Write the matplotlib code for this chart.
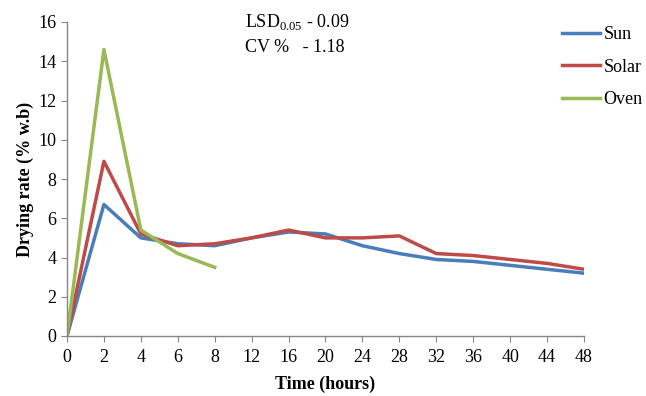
import matplotlib
matplotlib.use("Agg")
import matplotlib.pyplot as plt
import numpy as np

hours = ["0", "2", "4", "6", "8", "12", "16", "20", "24", "28", "32", "36", "40", "44", "48"]
sun = [0, 6.7, 5.0, 4.7, 4.6, 5.0, 5.3, 5.2, 4.6, 4.2, 3.9, 3.8, 3.6, 3.4, 3.2]
solar = [0, 8.9, 5.2, 4.6, 4.7, 5.0, 5.4, 5.0, 5.0, 5.1, 4.2, 4.1, 3.9, 3.7, 3.4]
oven = [0, 14.6, 5.4, 4.2, 3.5]

plt.rcParams['font.family'] = ['Liberation Serif', 'DejaVu Serif']

fig = plt.figure(figsize=(6.46, 3.96), dpi=100)
ax = fig.add_axes([67/646, 1-336/396, (584-67)/646, (336-22)/396])

x = np.arange(len(hours))
ax.plot(x, sun, color="#4a7ebb", lw=2.5, label="Sun", solid_joinstyle="round")
ax.plot(x, solar, color="#be4b48", lw=2.5, label="Solar", solid_joinstyle="round")
ax.plot(x[:len(oven)], oven, color="#98b954", lw=2.5, label="Oven", solid_joinstyle="round")

ax.set_xlim(0, len(hours)-1)
ax.set_ylim(0, 16)
ax.set_xticks(x)
ax.set_xticklabels(hours)
ax.set_yticks(np.arange(0, 17, 2))
for s in ["top", "right"]:
    ax.spines[s].set_visible(False)
for s in ["left", "bottom"]:
    ax.spines[s].set_color("#868686")
    ax.spines[s].set_linewidth(1)
ax.tick_params(axis="both", colors="#868686", labelcolor="black", labelsize=13, length=4, direction="out")
ax.tick_params(axis="x", pad=5)

ax.set_xlabel("Time (hours)", fontsize=13, fontweight="bold", labelpad=7)
ax.set_ylabel("Drying rate (% w.b)", fontsize=13, fontweight="bold", labelpad=3)

fig.text(245/646, 1-22/396, r"LSD$_{\mathregular{0.05}}$ - 0.09", fontsize=13, va="center", ha="left")
fig.text(245/646, 1-48/396, "CV %   - 1.18", fontsize=13, va="center", ha="left")

leg = fig.legend(loc="upper left", bbox_to_anchor=(555/646, 1-19/396), frameon=False,
                 fontsize=13, handlelength=2.1, handletextpad=0.2, labelspacing=0.85,
                 borderaxespad=0)

fig.savefig("out.png", dpi=100)
